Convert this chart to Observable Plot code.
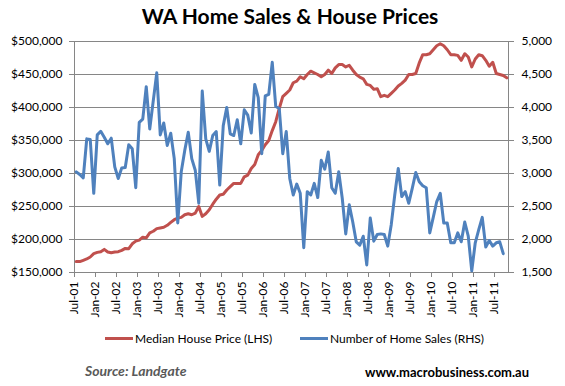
<!DOCTYPE html>
<html><head><meta charset="utf-8">
<script src="https://cdn.jsdelivr.net/npm/d3@7"></script>
<script src="https://cdn.jsdelivr.net/npm/@observablehq/plot@0.6"></script>
<style>
body{margin:0;background:#fff;font-family:Lato,"Open Sans",sans-serif;}
#wrap{position:relative;width:565px;height:386px;overflow:hidden;}
#title{position:absolute;left:0;width:580px;top:3px;text-align:center;font-weight:bold;font-size:21px;color:#000;white-space:nowrap;}
#chart{position:absolute;left:0;top:30px;}
.leg{position:absolute;top:331px;font-size:12px;color:#000;display:flex;align-items:center;white-space:nowrap;}
.sw{display:inline-block;width:28px;height:3px;margin-right:2px;}
#src{position:absolute;left:85px;top:362px;font-size:14px;font-style:italic;font-weight:bold;color:#595959;}
#web{position:absolute;left:365px;top:364px;font-size:13px;font-weight:bold;color:#000;}
</style></head>
<body>
<div id="wrap">
  <div id="title">WA Home Sales &amp; House Prices</div>
  <div id="chart"></div>
  <div class="leg" style="left:105px"><span class="sw" style="background:#C0504D"></span>Median House Price (LHS)</div>
  <div class="leg" style="left:300px"><span class="sw" style="background:#4F81BD"></span>Number of Home Sales (RHS)</div>
  <div id="src">Source: Landgate</div>
  <div id="web">www.macrobusiness.com.au</div>
</div>
<script>
// Median house price (LHS), monthly from Jul-01
const price = [
166500,166500,168500,170500,173500,178500,180500,181500,185000,181000,
180000,181000,181500,183500,186500,186000,193500,197500,199000,203500,
202500,210000,212500,216500,217500,218500,221500,226000,230000,232500,
233500,237500,239000,237500,240000,250000,235000,239000,245000,253500,
261000,267500,268500,275000,280000,285000,285000,285000,295000,297500,
307500,313500,328500,335000,343500,350000,365000,378500,398500,416500,
421500,426500,437500,440000,446500,443500,450000,455000,452500,450000,
446500,450000,456500,451500,460000,465000,465000,461500,464000,456500,
450000,446000,443500,435000,433500,427500,428500,416500,418500,416500,
421500,426500,432500,436500,441500,450000,450000,451500,467500,480000,
480000,481500,487500,493500,496500,493500,487500,480000,480000,479000,
471500,481500,476500,461500,473500,480000,478500,471500,462500,468500,
451500,450000,448500,445000
];
// Number of home sales (RHS), monthly from Jul-01
const sales = [
3025,2985,2935,3525,3515,2700,3585,3640,3550,3450,
3535,3100,2925,3085,3090,3435,3375,2785,3775,3825,
4315,3675,4100,4525,3585,3765,3425,3610,3225,2250,
3025,3350,3625,3225,3050,2550,4250,3525,3335,3575,
3635,2825,3725,4000,3600,3575,3815,3450,3965,3885,
3615,4350,4150,3300,4175,4200,4685,4015,3985,3300,
3635,2925,2675,2840,2700,1875,2725,2675,2850,2635,
3200,3065,3325,2785,2700,3025,2625,2085,2525,2265,
1965,1915,2050,1615,2325,1975,2075,2085,2075,1900,
2225,2675,3075,2650,2725,2550,2775,3015,2875,2815,
2785,2100,2335,2575,2700,2250,2250,1950,1950,2100,
1965,2265,2050,1525,1950,2150,2335,1885,1985,1900,
1950,1965,1785
];
const tickLabels = ["Jul-01","Jan-02","Jul-02","Jan-03","Jul-03","Jan-04","Jul-04","Jan-05","Jul-05","Jan-06","Jul-06","Jan-07","Jul-07","Jan-08","Jul-08","Jan-09","Jul-09","Jan-10","Jul-10","Jan-11","Jul-11"];
const priceTicks = [150000,200000,250000,300000,350000,400000,450000,500000];
const salesTicks = [1500,2000,2500,3000,3500,4000,4500,5000];
const nMonths = 124;
const ratio = 100; // sales axis = price axis / 100

const grid = "#868686";
const fmtPrice = d3.format("$,");
const fmtSales = d3.format(",");

const chart = Plot.plot({
  width: 565,
  height: 300,
  marginTop: 11,
  marginBottom: 58,
  marginLeft: 74,
  marginRight: 57,
  style: {fontFamily: "Lato, 'Open Sans', sans-serif", fontSize: "12px", color: "#000", background: "#fff"},
  x: {type: "linear", domain: [0, nMonths]},
  y: {domain: [150000, 500000]},
  marks: [
    Plot.ruleY(priceTicks, {stroke: grid, strokeWidth: 1}),
    Plot.frame({anchor: "left", stroke: grid}),
    Plot.frame({anchor: "right", stroke: grid}),
    Plot.axisY({anchor: "left", ticks: priceTicks, tickFormat: fmtPrice, tickSize: 5, tickPadding: 7, stroke: grid, label: null, fontSize: 12, fill: "#000"}),
    Plot.axisY({anchor: "right", ticks: salesTicks.map(s => s * ratio), tickFormat: d => fmtSales(d / ratio), tickSize: 5, tickPadding: 8, stroke: grid, label: null, fontSize: 12, fill: "#000"}),
    Plot.axisX({ticks: tickLabels.map((_, i) => i * 6), tickFormat: d => tickLabels[d / 6], tickRotate: -90, tickSize: 5, tickPadding: 4, stroke: grid, label: null, fontSize: 12, fill: "#000"}),
    Plot.line(price, {x: (d, i) => i + 0.5, y: d => d, stroke: "#C0504D", strokeWidth: 3, strokeLinejoin: "round", strokeLinecap: "round"}),
    Plot.line(sales, {x: (d, i) => i + 0.5, y: d => d * ratio, stroke: "#4F81BD", strokeWidth: 3, strokeLinejoin: "round", strokeLinecap: "round"})
  ]
});
document.getElementById("chart").appendChild(chart);
</script>
</body></html>
